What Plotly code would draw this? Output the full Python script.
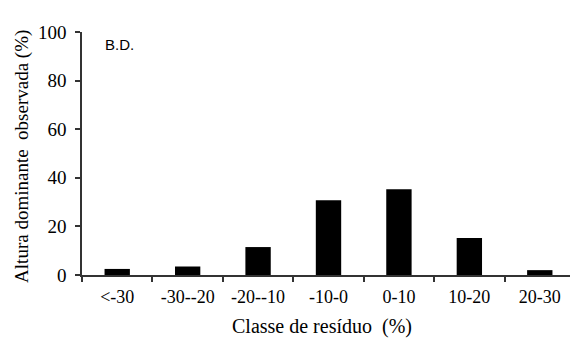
import plotly.graph_objects as go

categories = ["<-30", "-30--20", "-20--10", "-10-0", "0-10", "10-20", "20-30"]
values = [2.5, 3.5, 11.5, 30.8, 35.3, 15.2, 2.0]
y_ticks = [0, 20, 40, 60, 80, 100]

# The page body has an 8px default margin, so the figure is sized/offset to compensate.
fig = go.Figure(go.Bar(x=categories, y=values, marker=dict(color="black", line=dict(width=0))))

fig.update_layout(
    width=570, height=337,
    margin=dict(l=74, r=3, t=24, b=70, autoexpand=False),
    plot_bgcolor="white", paper_bgcolor="white",
    bargap=0.64,
    showlegend=False,
    font=dict(family="Liberation Serif", color="black", size=18),
)
fig.update_xaxes(
    type="category", automargin=False,
    showline=True, linecolor="#333", linewidth=1.5,
    ticks="outside", tickson="boundaries", ticklen=5, tickcolor="#333", tickwidth=1.5,
    showgrid=False, ticklabelstandoff=5,
    tickfont=dict(size=18),
)
fig.update_yaxes(
    range=[0, 100], tickvals=y_ticks, automargin=False,
    showline=True, linecolor="#333", linewidth=1.5,
    ticks="outside", ticklen=5, tickcolor="#333", tickwidth=1.5,
    showgrid=False, zeroline=False, ticklabelstandoff=5,
    tickfont=dict(size=19),
)
fig.add_annotation(
    text="Altura dominante  observada (%)", xref="paper", yref="paper",
    x=0, y=0.486, xanchor="center", yanchor="middle", xshift=-60,
    textangle=-90, showarrow=False, font=dict(size=19),
)
fig.add_annotation(
    text="Classe de resíduo  (%)", xref="paper", yref="paper",
    x=0.487, y=0, xanchor="center", yanchor="middle", yshift=-51,
    showarrow=False, font=dict(size=20),
)
fig.add_annotation(
    text="B.D.", xref="paper", yref="paper", x=0.043, y=0.95,
    xanchor="left", yanchor="middle", showarrow=False,
    font=dict(family="Liberation Sans", size=15, color="black"),
)
fig.write_html("out.html")
